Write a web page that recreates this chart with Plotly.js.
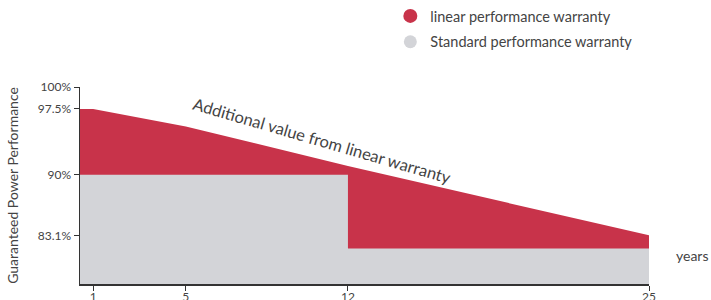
<!DOCTYPE html>
<html>
<head>
<meta charset="utf-8">
<script src="https://cdn.plot.ly/plotly-3.0.1.min.js"></script>
<style>html,body{margin:0;padding:0;background:#fff;}#chart{width:711px;height:300px;}</style>
</head>
<body>
<div id="chart"></div>
<script>
// Data
const linearYears = [0, 1, 5, 12, 25];
const linearValues = [97.5, 97.5, 95.5, 91, 83.1];
const standardYears = [0, 12, 25];
const standardValues = [90, 81.6, 81.6];
const xTickVals = [1, 5, 12, 25];
const xTickText = ['1', '5', '12', '25'];
const yTickVals = [100, 97.5, 90, 83.1];
const yTickText = ['100%', '97.5%', '90%', '83.1%'];
const seriesNames = ['linear performance warranty', 'Standard performance warranty'];

const RED = 'rgb(200,51,74)';
const GREY = 'rgb(211,212,216)';
const FONT = 'Lato, sans-serif';
const TXT = '#444';

const traces = [
  {x: linearYears, y: linearValues, type: 'scatter', mode: 'lines', fill: 'tozeroy',
   fillcolor: RED, line: {color: RED, width: 0}, showlegend: false, hoverinfo: 'skip'},
  {x: standardYears, y: standardValues, type: 'scatter', mode: 'lines', fill: 'tozeroy',
   line: {shape: 'hv', color: GREY, width: 0}, fillcolor: GREY, showlegend: false, hoverinfo: 'skip'},
  {x: [null], y: [null], type: 'scatter', mode: 'markers', name: seriesNames[0], legendgroup: 'a',
   marker: {color: RED, size: 14, symbol: 'circle'}},
  {x: [null], y: [null], type: 'scatter', mode: 'markers', name: seriesNames[1], legendgroup: 'b',
   marker: {color: GREY, size: 13, symbol: 'circle'}}
];

const layout = {
  width: 711, height: 300,
  margin: {l: 80, r: 62, t: 87, b: 16, autoexpand: false},
  paper_bgcolor: '#fff', plot_bgcolor: '#fff',
  font: {family: FONT, color: TXT, size: 12},
  showlegend: true,
  legend: {xref: 'container', yref: 'container', x: 0.549, y: 1.0, yanchor: 'top', xanchor: 'left',
           font: {size: 14.5, color: TXT, family: FONT}, tracegroupgap: 4, bgcolor: 'rgba(0,0,0,0)'},
  xaxis: {range: [0.43, 25], tickvals: xTickVals, ticktext: xTickText, showgrid: false, zeroline: false,
          showline: true, linecolor: '#333', linewidth: 1.5, ticks: 'outside', ticklen: 5, tickcolor: '#333',
          ticklabelstandoff: -4, tickfont: {size: 12, color: TXT}, fixedrange: true},
  yaxis: {range: [77.56, 100], tickvals: yTickVals, ticktext: yTickText, showgrid: false, zeroline: false,
          showline: true, linecolor: '#333', linewidth: 1.5, ticks: 'outside', ticklen: 5, tickcolor: '#333',
          tickfont: {size: 12, color: TXT}, fixedrange: true,
          title: {text: 'Guaranteed Power Performance', font: {size: 14, color: TXT}, standoff: 16}},
  annotations: [
    {x: 10.9, y: 93.85, xref: 'x', yref: 'y', text: 'Additional value from linear warranty',
     showarrow: false, textangle: 16.2, xanchor: 'center', yanchor: 'middle',
     font: {size: 16.5, color: TXT, family: FONT}},
    {x: (692 - 80) / 569, y: (284 - 255) / 197, xref: 'paper', yref: 'paper', text: 'years', showarrow: false,
     xanchor: 'center', yanchor: 'middle', font: {size: 14, color: TXT, family: FONT}}
  ]
};

Plotly.newPlot('chart', traces, layout, {displayModeBar: false, staticPlot: true});
</script>
</body>
</html>
